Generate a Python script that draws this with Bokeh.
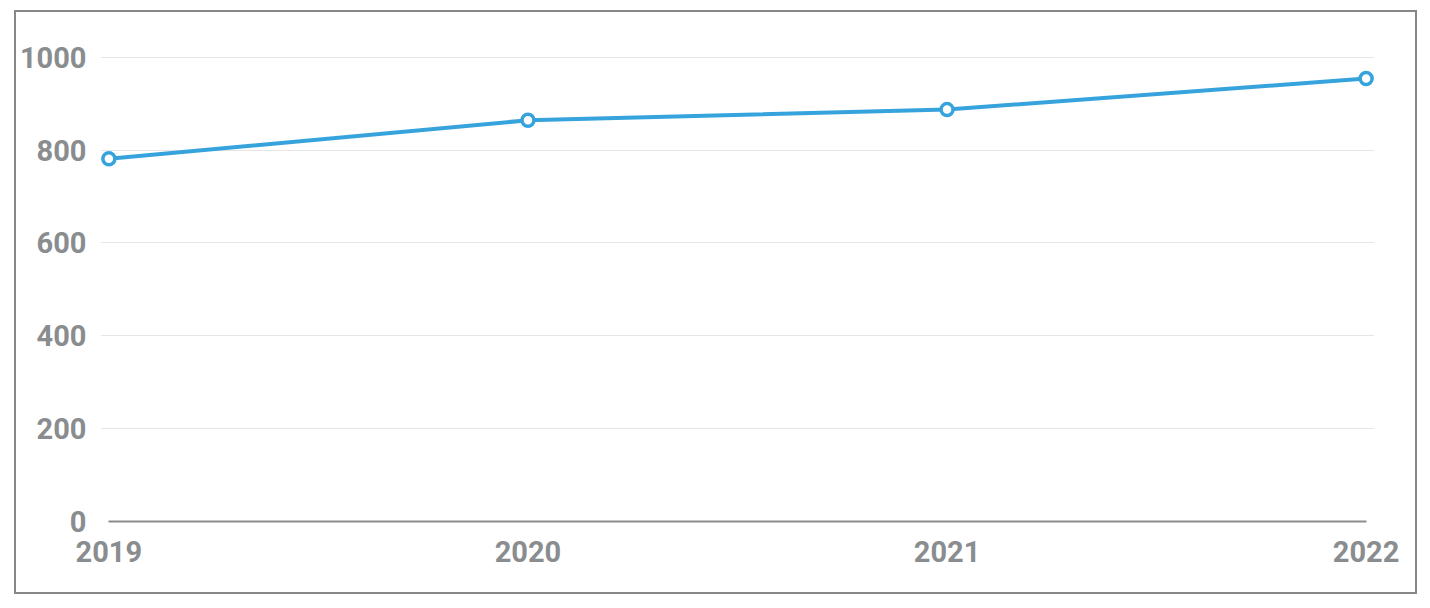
from bokeh.plotting import figure
from bokeh.models import Range1d, FixedTicker
from bokeh.embed import file_html
from bokeh.resources import INLINE

years = [2019, 2020, 2021, 2022]
values = [781, 864, 887, 954]
y_ticks = [0, 200, 400, 600, 800, 1000]

GRAY = "#8a8d8f"
BLUE = "#36a3dc"
FONT = "Roboto"

p = figure(width=1403, height=584, output_backend="svg", toolbar_location=None,
           x_range=Range1d(2018.98, 2022.02), y_range=Range1d(0, 1010),
           min_border_left=82, min_border_right=45, min_border_top=40, min_border_bottom=75)
p.styles = {"border": "2px solid #878787", "margin-left": "14px", "margin-top": "10px"}
p.outline_line_color = None

p.line(years, values, line_color=BLUE, line_width=4)
p.scatter(years, values, size=12, fill_color="white", line_color=BLUE, line_width=3.5)

p.xaxis.ticker = FixedTicker(ticks=years)
p.xaxis.bounds = (2019, 2022)
p.yaxis.ticker = FixedTicker(ticks=y_ticks)
for ax in (p.xaxis, p.yaxis):
    ax.major_tick_line_color = None
    ax.minor_tick_line_color = None
    ax.major_tick_out = 0
    ax.major_tick_in = 0
    ax.minor_tick_out = 0
    ax.minor_tick_in = 0
    ax.major_label_text_font = FONT
    ax.major_label_text_font_style = "bold"
    ax.major_label_text_font_size = "29px"
    ax.major_label_text_color = GRAY
p.xaxis.axis_line_color = "#8c8c8c"
p.xaxis.axis_line_width = 2
p.xaxis.major_label_standoff = 19
p.yaxis.axis_line_color = None
p.yaxis.major_label_standoff = 14
p.xgrid.grid_line_color = None
p.ygrid.grid_line_color = "#e6e6e6"
p.ygrid.grid_line_width = 1

open("out.html", "w").write(file_html(p, INLINE))
